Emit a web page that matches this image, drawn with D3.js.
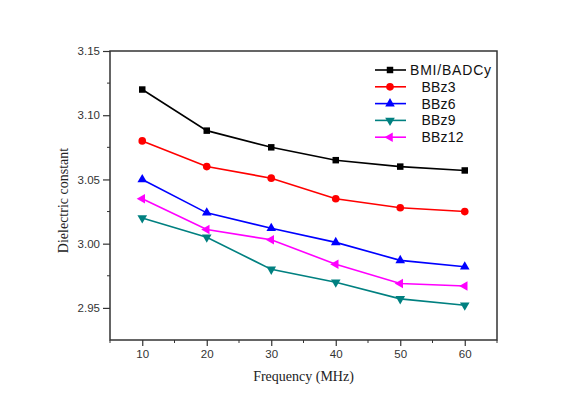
<!DOCTYPE html>
<html>
<head>
<meta charset="utf-8">
<script src="https://cdn.jsdelivr.net/npm/d3@7"></script>
<style>
  html, body { margin: 0; padding: 0; background: #fff; }
  svg { display: block; }
</style>
</head>
<body>
<svg id="chart" width="563" height="399"></svg>
<script>
// Frequency points (MHz)
const frequencies = [10, 20, 30, 40, 50, 60];

// Dielectric constant per formulation
const bmiBadcy = [3.120, 3.088, 3.075, 3.065, 3.060, 3.057];
const bbz3     = [3.080, 3.060, 3.051, 3.035, 3.028, 3.025];
const bbz6     = [3.050, 3.024, 3.012, 3.001, 2.987, 2.982];
const bbz9     = [3.020, 3.005, 2.980, 2.970, 2.957, 2.952];
const bbz12    = [3.035, 3.011, 3.003, 2.984, 2.969, 2.967];

const seriesNames = ["BMI/BADCy", "BBz3", "BBz6", "BBz9", "BBz12"];

const xTicks = [10, 20, 30, 40, 50, 60];
const yTicks = [2.95, 3.00, 3.05, 3.10, 3.15];

const series = [
  { name: seriesNames[0], values: bmiBadcy, color: "#000000", symbol: d3.symbolSquare,   rotate: 0 },
  { name: seriesNames[1], values: bbz3,     color: "#ff0000", symbol: d3.symbolCircle,   rotate: 0 },
  { name: seriesNames[2], values: bbz6,     color: "#0000ff", symbol: d3.symbolTriangle, rotate: 0 },
  { name: seriesNames[3], values: bbz9,     color: "#008080", symbol: d3.symbolTriangle, rotate: 180 },
  { name: seriesNames[4], values: bbz12,    color: "#ff00ff", symbol: d3.symbolTriangle, rotate: -90 }
];

const svg = d3.select("#chart");
const m = { left: 110, top: 51, right: 497, bottom: 340 };

const x = d3.scaleLinear().domain([5, 65]).range([m.left, m.right]);
const y = d3.scaleLinear().domain([2.925, 3.15]).range([m.bottom, m.top]);

const axisColor = "#333";
const tickFont = "Arial, 'Liberation Sans', sans-serif";

// Frame
svg.append("rect")
  .attr("x", m.left).attr("y", m.top)
  .attr("width", m.right - m.left).attr("height", m.bottom - m.top)
  .attr("fill", "none").attr("stroke", axisColor).attr("stroke-width", 1.5);

// Minor ticks
const xMinor = d3.range(5, 66, 10);
svg.append("g").selectAll("line").data(xMinor).join("line")
  .attr("x1", d => x(d)).attr("x2", d => x(d))
  .attr("y1", m.bottom).attr("y2", m.bottom + 3)
  .attr("stroke", axisColor).attr("stroke-width", 1);
const yMinor = [2.975, 3.025, 3.075, 3.125];
svg.append("g").selectAll("line").data(yMinor).join("line")
  .attr("x1", m.left - 3).attr("x2", m.left)
  .attr("y1", d => y(d)).attr("y2", d => y(d))
  .attr("stroke", axisColor).attr("stroke-width", 1);

// Bottom axis
const gx = svg.append("g")
  .attr("transform", `translate(0,${m.bottom})`)
  .call(d3.axisBottom(x).tickValues(xTicks).tickSize(6).tickPadding(4).tickFormat(d3.format("d")));
gx.select(".domain").remove();
gx.selectAll(".tick line").attr("stroke", axisColor).attr("stroke-width", 1.2);
gx.selectAll(".tick text").attr("font-family", tickFont).attr("font-size", 11.5).attr("fill", "#333");

// Left axis
const gy = svg.append("g")
  .attr("transform", `translate(${m.left},0)`)
  .call(d3.axisLeft(y).tickValues(yTicks).tickSize(7).tickPadding(3).tickFormat(d3.format(".2f")));
gy.select(".domain").remove();
gy.selectAll(".tick line").attr("stroke", axisColor).attr("stroke-width", 1.2);
gy.selectAll(".tick text").attr("font-family", tickFont).attr("font-size", 11.5).attr("fill", "#333");

// Axis titles
svg.append("text")
  .attr("x", (m.left + m.right) / 2).attr("y", 381)
  .attr("text-anchor", "middle")
  .attr("font-family", "'Liberation Serif', 'Times New Roman', serif")
  .attr("font-size", 14).attr("fill", "#222")
  .text("Frequency (MHz)");

svg.append("text")
  .attr("transform", `translate(68,${(m.top + m.bottom) / 2 + 5}) rotate(-90)`)
  .attr("text-anchor", "middle")
  .attr("font-family", "'Liberation Serif', 'Times New Roman', serif")
  .attr("font-size", 14).attr("fill", "#222")
  .text("Dielectric constant");

// Lines and markers
const line = d3.line().x((d, i) => x(frequencies[i])).y(d => y(d));

function symbolPath(s) {
  const size = s.symbol === d3.symbolSquare ? 42 : s.symbol === d3.symbolCircle ? 46 : 40;
  return d3.symbol().type(s.symbol).size(size)();
}

series.forEach(s => {
  svg.append("path")
    .datum(s.values)
    .attr("d", line)
    .attr("fill", "none")
    .attr("stroke", s.color)
    .attr("stroke-width", 1.6);
  svg.append("g").selectAll("path").data(s.values).join("path")
    .attr("d", symbolPath(s))
    .attr("transform", (d, i) => `translate(${x(frequencies[i])},${y(d)}) rotate(${s.rotate})`)
    .attr("fill", s.color);
});

// Legend
const legend = svg.append("g");
const legendY0 = 70, legendStep = 16.8;
series.forEach((s, i) => {
  const ly = legendY0 + i * legendStep;
  legend.append("line")
    .attr("x1", 375).attr("x2", 406).attr("y1", ly).attr("y2", ly)
    .attr("stroke", s.color).attr("stroke-width", 1.6);
  legend.append("path")
    .attr("d", symbolPath(s))
    .attr("transform", `translate(390,${ly}) rotate(${s.rotate})`)
    .attr("fill", s.color);
  legend.append("text")
    .attr("x", i === 0 ? 410 : 421.5).attr("y", ly + 5)
    .attr("font-family", tickFont).attr("font-size", 14).attr("fill", "#111")
    .attr("letter-spacing", i === 0 ? 0.8 : 0.2)
    .text(s.name);
});
</script>
</body>
</html>
